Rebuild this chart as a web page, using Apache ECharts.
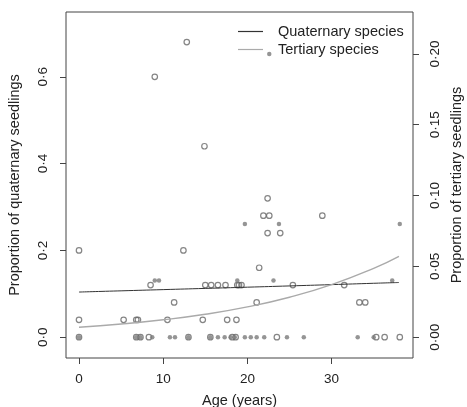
<!DOCTYPE html>
<html>
<head>
<meta charset="utf-8">
<script src="https://cdn.jsdelivr.net/npm/echarts@6/dist/echarts.min.js"></script>
<style>
html,body{margin:0;padding:0;background:#fff;}
#c{width:467px;height:407px;}
</style>
</head>
<body>
<div id="c"></div>
<script>
// Quaternary seedlings (open circles): [age, proportion]
var quaternaryPoints = [
  [9, 0.60], [12.8, 0.68], [14.9, 0.44],
  [22.4, 0.32], [21.9, 0.28], [22.6, 0.28], [28.9, 0.28],
  [22.4, 0.24], [23.9, 0.24],
  [0, 0.20], [12.4, 0.20], [21.4, 0.16],
  [8.5, 0.12], [15.0, 0.12], [15.7, 0.12], [16.5, 0.12], [17.4, 0.12],
  [18.8, 0.12], [19.0, 0.12], [19.3, 0.12], [25.4, 0.12], [31.5, 0.12],
  [11.3, 0.08], [21.1, 0.08], [33.3, 0.08], [34.0, 0.08],
  [0, 0.04], [5.3, 0.04], [6.8, 0.04], [7.0, 0.04], [10.5, 0.04],
  [14.7, 0.04], [17.6, 0.04], [18.7, 0.04],
  [0, 0], [6.8, 0], [7.3, 0], [8.3, 0], [13.0, 0], [15.6, 0], [18.2, 0],
  [18.6, 0], [23.5, 0], [35.3, 0], [36.3, 0], [38.1, 0]
];
// Tertiary seedlings (filled dots): [age, proportion]
var tertiaryPoints = [
  [22.6, 0.20], [19.7, 0.08], [23.75, 0.08], [38.1, 0.08],
  [9.0, 0.04], [9.5, 0.04], [18.8, 0.04], [23.1, 0.04], [37.2, 0.04],
  [0, 0], [6.8, 0], [7.3, 0], [8.7, 0], [10.8, 0], [11.4, 0], [13.0, 0],
  [15.6, 0], [16.5, 0], [17.3, 0], [18.0, 0], [18.5, 0], [19.7, 0],
  [20.4, 0], [21.1, 0], [22.0, 0], [24.7, 0], [26.7, 0], [33.1, 0], [35.0, 0]
];
// Fitted curves
var curveAges = [0, 5, 10, 15, 20, 25, 30, 35, 38];
var quaternaryCurve = [0.104, 0.1068, 0.1096, 0.1124, 0.1152, 0.1181, 0.1211, 0.1242, 0.126];
var tertiaryCurve = [0.0070, 0.0093, 0.0123, 0.0162, 0.0214, 0.0282, 0.0371, 0.0486, 0.0571];
// Tick labels
var xTicks = [0, 10, 20, 30];
var leftTicks = [0, 0.2, 0.4, 0.6];
var rightTicks = [0, 0.05, 0.10, 0.15, 0.20];

var FONT = '"Liberation Sans", Arial, Helvetica, sans-serif';
var TXT = '#222';

function pairs(xs, ys) { return xs.map(function (x, i) { return [x, ys[i]]; }); }

var chart = echarts.init(document.getElementById('c'), null, {renderer: 'canvas'});
chart.setOption({
  animation: false,
  backgroundColor: '#fff',
  textStyle: {fontFamily: FONT},
  grid: {left: 66, right: 54, top: 12, bottom: 49, outerBoundsMode: 'none', containLabel: false,
    show: true, borderColor: '#444', borderWidth: 1, backgroundColor: 'transparent'},
  legend: {
    orient: 'vertical', left: 233, top: 19, itemGap: 3,
    icon: 'rect', itemWidth: 25, itemHeight: 1.2,
    data: ['Quaternary species', 'Tertiary species'],
    textStyle: {fontFamily: FONT, fontSize: 14.5, color: TXT, padding: [0, 0, 0, 10]}
  },
  xAxis: {
    type: 'value', min: -1.544, max: 39.67,
    name: 'Age (years)', nameLocation: 'middle', nameGap: 35,
    nameTextStyle: {fontFamily: FONT, fontSize: 14.5, color: TXT},
    axisLine: {show: false, onZero: false},
    axisTick: {show: true, length: 6, inside: false, customValues: xTicks, lineStyle: {color: '#444'}},
    axisLabel: {customValues: xTicks, margin: 14, fontFamily: FONT, fontSize: 13.5, color: TXT},
    splitLine: {show: false}
  },
  yAxis: [{
    type: 'value', min: -0.048, max: 0.7494, position: 'left',
    name: 'Proportion of quaternary seedlings', nameLocation: 'middle', nameGap: 44,
    nameTextStyle: {fontFamily: FONT, fontSize: 14.5, color: TXT},
    axisLine: {show: false, onZero: false},
    axisTick: {show: true, length: 6, inside: false, customValues: leftTicks, lineStyle: {color: '#444'}},
    axisLabel: {customValues: leftTicks, rotate: 90, margin: 16, fontFamily: FONT, fontSize: 13.5, color: TXT,
      formatter: function (v) { return v.toFixed(1).replace('.', '\u00b7'); }},
    splitLine: {show: false}
  }, {
    type: 'value', min: -0.0147, max: 0.2296, position: 'right',
    name: 'Proportion of tertiary seedlings', nameLocation: 'middle', nameGap: 34,
    nameRotate: 90,
    nameTextStyle: {fontFamily: FONT, fontSize: 14.5, color: TXT},
    axisLine: {show: false, onZero: false},
    axisTick: {show: true, length: 6, inside: false, customValues: rightTicks, lineStyle: {color: '#444'}},
    axisLabel: {customValues: rightTicks, rotate: 90, margin: 15, fontFamily: FONT, fontSize: 13.5, color: TXT,
      formatter: function (v) { return v.toFixed(2).replace('.', '\u00b7'); }},
    splitLine: {show: false}
  }],
  series: [{
    name: 'quaternary points', type: 'scatter', yAxisIndex: 0, data: quaternaryPoints,
    symbol: 'circle', symbolSize: 5.5,
    itemStyle: {color: 'rgba(0,0,0,0)', borderColor: '#666', borderWidth: 1.2}
  }, {
    name: 'tertiary points', type: 'scatter', yAxisIndex: 1, data: tertiaryPoints,
    symbol: 'circle', symbolSize: 4.5,
    itemStyle: {color: '#7a7a7a'}
  }, {
    name: 'Quaternary species', type: 'line', yAxisIndex: 0, data: pairs(curveAges, quaternaryCurve),
    smooth: true, symbol: 'none', color: '#333',
    lineStyle: {color: '#333', width: 1}
  }, {
    name: 'Tertiary species', type: 'line', yAxisIndex: 1, data: pairs(curveAges, tertiaryCurve),
    smooth: true, symbol: 'none', color: '#aaa',
    lineStyle: {color: '#aaa', width: 1.4}
  }]
});
</script>
</body>
</html>
